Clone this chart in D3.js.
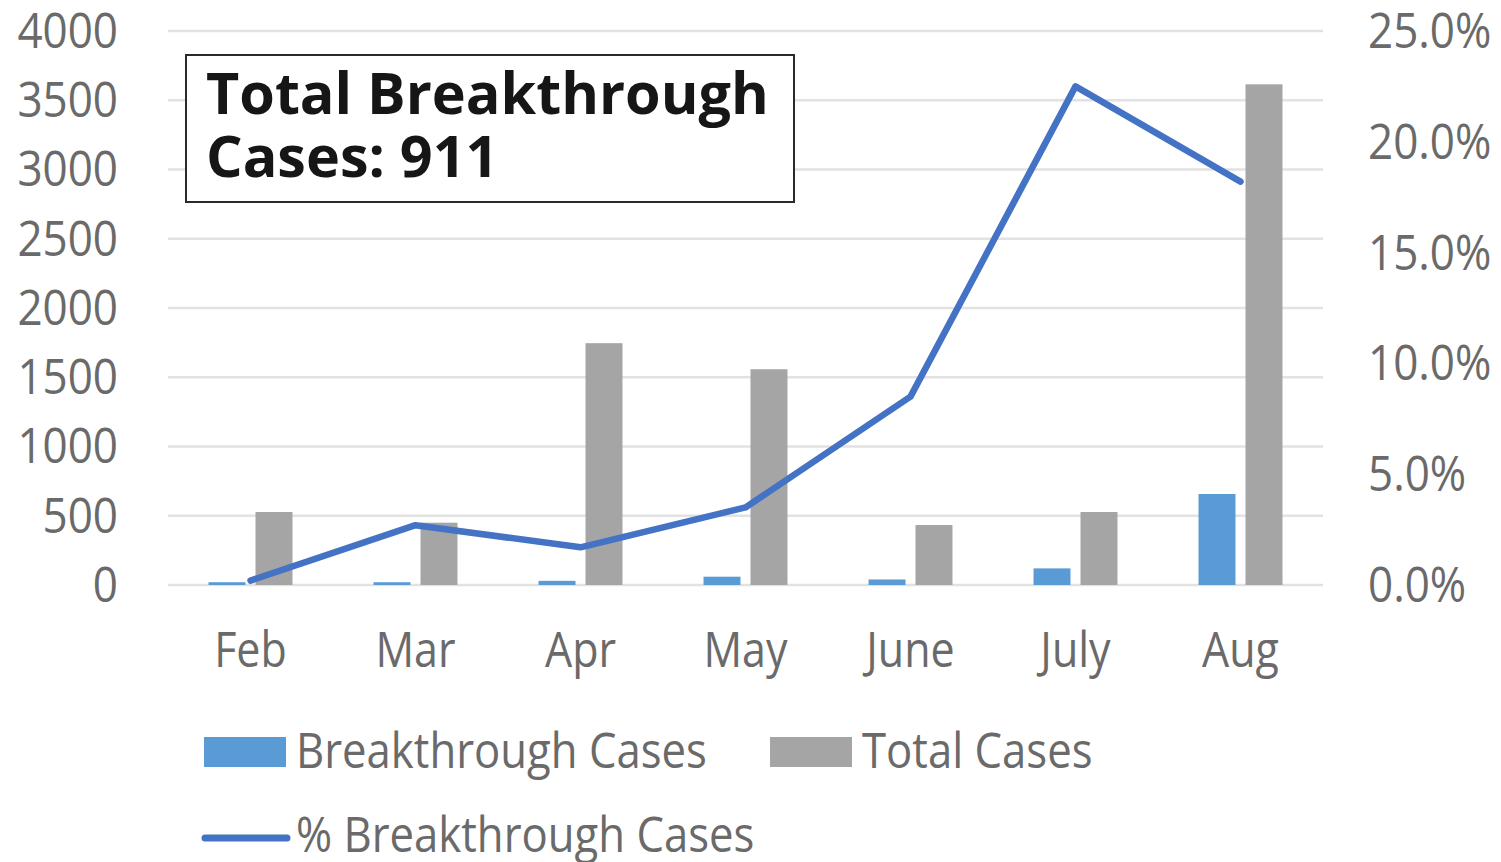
<!DOCTYPE html>
<html>
<head>
<meta charset="utf-8">
<script src="https://cdn.jsdelivr.net/npm/d3@7"></script>
<style>
  html, body { margin: 0; padding: 0; background: #fff; }
  svg { display: block; }
  text { font-family: "Open Sans", "Noto Sans", sans-serif; }
  .tall { transform-box: fill-box; transform-origin: center; transform: scaleY(1.14); }
</style>
</head>
<body>
<svg id="chart" width="1501" height="862"></svg>
<script>
const months = ["Feb", "Mar", "Apr", "May", "June", "July", "Aug"];
const breakthroughCases = [20, 20, 30, 60, 40, 120, 657];
const totalCases = [527, 450, 1746, 1558, 433, 527, 3615];
const pctBreakthrough = [0.002, 0.027, 0.017, 0.035, 0.085, 0.225, 0.182];
const leftTicks = [0, 500, 1000, 1500, 2000, 2500, 3000, 3500, 4000];
const rightTicks = [0, 0.05, 0.10, 0.15, 0.20, 0.25];
const seriesNames = ["Breakthrough Cases", "Total Cases"];
const lineName = "% Breakthrough Cases";
const annotation = ["Total Breakthrough", "Cases: 911"];

const colors = { blue: "#5B9BD5", gray: "#A5A5A5", line: "#4472C4", grid: "#e2e2e2", text: "#6a6a6a" };

const svg = d3.select("#chart");
const plot = { left: 168, right: 1323, top: 31, bottom: 585 };

const x = d3.scaleBand().domain(months).range([plot.left, plot.right]).padding(0);
const x1 = d3.scaleBand().domain(seriesNames).range([0, x.bandwidth()]).paddingInner(0.213).paddingOuter(0.862);
const yL = d3.scaleLinear().domain([0, 4000]).range([plot.bottom, plot.top]);
const yR = d3.scaleLinear().domain([0, 0.25]).range([plot.bottom, plot.top]);

// gridlines
svg.append("g").selectAll("line").data(leftTicks).join("line")
  .attr("x1", plot.left).attr("x2", plot.right)
  .attr("y1", d => yL(d)).attr("y2", d => yL(d))
  .attr("stroke", colors.grid).attr("stroke-width", 2.5);

// left axis
const gL = svg.append("g").attr("transform", `translate(${plot.left},0)`)
  .call(d3.axisLeft(yL).tickValues(leftTicks).tickSize(0).tickPadding(50).tickFormat(d3.format("d")));
gL.select(".domain").remove();
gL.selectAll("text").attr("class", "tall").attr("fill", colors.text).style("font-size", "44px").style("font-family", "'Open Sans', sans-serif");

// right axis
const gR = svg.append("g").attr("transform", `translate(${plot.right},0)`)
  .call(d3.axisRight(yR).tickValues(rightTicks).tickSize(0).tickPadding(45).tickFormat(d3.format(".1%")));
gR.select(".domain").remove();
gR.selectAll("text").attr("class", "tall").attr("fill", colors.text).style("font-size", "44px").style("font-family", "'Open Sans', sans-serif");

// bars
const barData = months.map((m, i) => ({ m, vals: [
  { s: seriesNames[0], v: breakthroughCases[i], c: colors.blue },
  { s: seriesNames[1], v: totalCases[i], c: colors.gray } ] }));
const groups = svg.append("g").selectAll("g").data(barData).join("g")
  .attr("transform", d => `translate(${x(d.m)},0)`);
groups.selectAll("rect").data(d => d.vals).join("rect")
  .attr("x", d => x1(d.s)).attr("width", x1.bandwidth())
  .attr("y", d => yL(d.v)).attr("height", d => yL(0) - yL(d.v))
  .attr("fill", d => d.c);

// line
const line = d3.line().x((d, i) => x(months[i]) + x.bandwidth() / 2).y(d => yR(d));
svg.append("path").datum(pctBreakthrough)
  .attr("d", line).attr("fill", "none").attr("stroke", colors.line)
  .attr("stroke-width", 6.5).attr("stroke-linejoin", "round").attr("stroke-linecap", "round");

// x axis labels
const gX = svg.append("g").attr("transform", `translate(0,${plot.bottom})`)
  .call(d3.axisBottom(x).tickSize(0).tickPadding(49));
gX.select(".domain").remove();
gX.selectAll("text").attr("class", "tall").attr("fill", colors.text).style("font-size", "43px").style("font-family", "'Open Sans', sans-serif");

// annotation box
const ann = svg.append("g");
ann.append("rect").attr("x", 186).attr("y", 55).attr("width", 608).attr("height", 147)
  .attr("fill", "#fff").attr("stroke", "#2a2a2a").attr("stroke-width", 2);
ann.selectAll("text").data(annotation).join("text")
  .attr("x", 206).attr("y", (d, i) => 114 + i * 63)
  .attr("fill", "#161616").style("font-size", "57.5px").style("font-weight", "700")
  .text(d => d);

// legend
const leg = svg.append("g");
const legItems = [
  { name: seriesNames[0], c: colors.blue, rx: 204, tx: 296, y: 737 },
  { name: seriesNames[1], c: colors.gray, rx: 770, tx: 862, y: 737 }
];
legItems.forEach(it => {
  leg.append("rect").attr("x", it.rx).attr("y", it.y).attr("width", 82).attr("height", 30).attr("fill", it.c);
  leg.append("text").attr("class", "tall").attr("x", it.tx).attr("y", 766)
    .attr("fill", colors.text).style("font-size", "43.7px").text(it.name);
});
leg.append("line").attr("x1", 205).attr("x2", 287).attr("y1", 838).attr("y2", 838)
  .attr("stroke", colors.line).attr("stroke-width", 7).attr("stroke-linecap", "round");
leg.append("text").attr("class", "tall").attr("x", 296).attr("y", 850)
  .attr("fill", colors.text).style("font-size", "43.7px").text(lineName);
</script>
</body>
</html>
